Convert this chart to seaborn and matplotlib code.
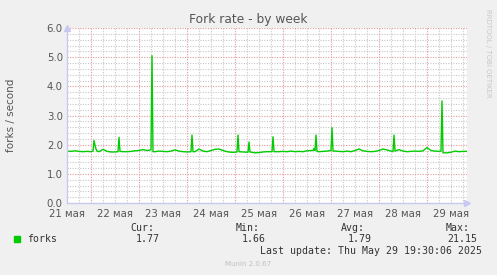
import numpy as np
import pandas as pd
import matplotlib
matplotlib.use("Agg")
import matplotlib.pyplot as plt
import seaborn as sns

# ---- data (hours since 21 May 00:00) ----
base_values = [
    1.78, 1.77, 1.79, 1.77, 1.76, 1.77, 1.76, 1.78, 1.76, 1.84,
    1.77, 1.75, 1.75, 1.76, 1.76, 1.76, 1.77, 1.79, 1.80, 1.83,
    1.80, 1.80, 1.76, 1.78, 1.77, 1.76, 1.78, 1.82, 1.78, 1.76,
    1.75, 1.75, 1.76, 1.85, 1.78, 1.76, 1.80, 1.84, 1.85, 1.80,
    1.76, 1.74, 1.74, 1.75, 1.75, 1.74, 1.74, 1.72, 1.73, 1.75,
    1.76, 1.76, 1.76, 1.76, 1.77, 1.76, 1.78, 1.76, 1.77, 1.76,
    1.79, 1.80, 1.80, 1.76, 1.77, 1.78, 1.80, 1.78, 1.77, 1.76,
    1.78, 1.76, 1.80, 1.85, 1.79, 1.77, 1.76, 1.77, 1.80, 1.85,
    1.82, 1.78, 1.78, 1.83, 1.78, 1.76, 1.77, 1.78, 1.77, 1.79,
    1.90, 1.80, 1.78, 1.77, 1.72, 1.72, 1.74, 1.78, 1.76, 1.77,
    1.77,
]
base_hours = list(range(12, 213, 2))

spike_hours = [25.0, 25.5, 26.0, 26.5, 27.0,
               37.5, 38.0, 38.5,
               54.0, 54.5, 55.0,
               74.0, 74.5, 75.0,
               97.0, 97.5, 98.0,
               102.5, 103.0, 103.5,
               114.5, 115.0, 115.5,
               135.0, 135.5, 136.0, 136.5, 137.0,
               144.0, 144.5, 145.0,
               175.0, 175.5, 176.0,
               199.0, 199.5, 200.0]
spike_values = [1.78, 2.14, 1.98, 1.85, 1.78,
                1.76, 2.25, 1.77,
                1.82, 5.05, 1.76,
                1.76, 2.33, 1.76,
                1.75, 2.33, 1.76,
                1.74, 2.09, 1.75,
                1.76, 2.27, 1.76,
                1.80, 1.87, 1.80, 2.33, 1.77,
                1.80, 2.58, 1.78,
                1.76, 2.33, 1.78,
                1.78, 3.50, 1.72]

day_labels = ["21 мая", "22 мая", "23 мая", "24 мая", "25 мая",
              "26 мая", "27 мая", "28 мая", "29 мая"]
y_ticks = [0.0, 1.0, 2.0, 3.0, 4.0, 5.0, 6.0]

legend_name = "forks"
stat_names = ["Cur:", "Min:", "Avg:", "Max:"]
stat_values = ["1.77", "1.66", "1.79", "21.15"]

# ---- assemble series ----
sp = np.array(spike_hours)
rows = [(h, v) for h, v in zip(base_hours, base_values)
        if np.min(np.abs(sp - h)) > 0.75]
rows += list(zip(spike_hours, spike_values))
df = pd.DataFrame(rows, columns=["hour", "forks"]).sort_values("hour")

# ---- figure ----
W, H = 497, 275
sns.set_style("white")
plt.rcParams["font.family"] = ["DejaVu Sans"]
fig = plt.figure(figsize=(W / 100, H / 100), dpi=100)
fig.patch.set_facecolor("#F0F0F0")

L, R, T, B = 67, 467, 28, 203
ax = fig.add_axes([L / W, 1 - B / H, (R - L) / W, (B - T) / H])
ax.set_facecolor("white")

x0, x1 = 12, 212
ax.set_xlim(x0, x1)
ax.set_ylim(0, 6)

minor_col = "#c8c8c8"
major_col = "#e09a9a"
dots = (0, (1, 1.3))
for h in range(18, 212, 6):
    if h % 24 != 0:
        ax.axvline(h, color=minor_col, lw=0.8, ls=dots, zorder=1)
for k in range(1, 30):
    yv = k * 0.2
    if k % 5 != 0:
        ax.axhline(yv, color=minor_col, lw=0.8, ls=dots, zorder=1)
for h in range(24, 212, 24):
    ax.axvline(h, color=major_col, lw=0.8, ls=dots, zorder=2)
for yv in y_ticks[1:]:
    ax.axhline(yv, color=major_col, lw=0.8, ls=dots, zorder=2)

sns.lineplot(data=df, x="hour", y="forks", ax=ax, color="#00cc00",
             lw=1.0, zorder=5, estimator=None, sort=False)

txt_col = "#555555"
noons = [12 + 24 * i for i in range(len(day_labels))]
ax.set_xticks(noons)
ax.set_xticklabels(day_labels)
ax.set_yticks(y_ticks)
ax.set_yticklabels([f"{v:.1f}" for v in y_ticks])
ax.tick_params(axis="both", length=0, labelsize=7.3, colors=txt_col, pad=3)
ax.tick_params(axis="x", pad=4)
ax.set_xlabel("")
ax.set_ylabel("")

for s in ["top", "right"]:
    ax.spines[s].set_visible(False)
for s in ["left", "bottom"]:
    ax.spines[s].set_color("#c8c8f0")
    ax.spines[s].set_linewidth(1.0)
    ax.spines[s].set_zorder(6)

ax.plot([0], [1.0], marker="^", ms=5, color="#c8c8f0", transform=ax.transAxes,
        clip_on=False, zorder=7)
ax.plot([1.0], [0], marker=">", ms=5, color="#c8c8f0", transform=ax.transAxes,
        clip_on=False, zorder=7)

def ft(x, y, s, **kw):
    fig.text(x / W, 1 - y / H, s, **kw)

ft(248, 19, "Fork rate - by week", ha="center", va="center", fontsize=8.8,
   color=txt_col)
ft(11, 115.5, "forks / second", ha="center", va="center", rotation=90,
   fontsize=7.5, color=txt_col)
ft(488, 53, "RRDTOOL / TOBI OETIKER", ha="center", va="center", rotation=270,
   fontsize=5, color="#c8c8c8")

mono = "DejaVu Sans Mono"
fig.patches.append(plt.Rectangle((14 / W, 1 - 242 / H), 6 / W, 6 / H,
                                 transform=fig.transFigure, color="#00cc00"))
ft(27, 239, legend_name, ha="left", va="center", fontsize=7.1, family=mono,
   color="#333333")
name_right = [154, 260, 365, 470]
val_right = [160, 266, 372, 477]
for nm, vv, nr, vr in zip(stat_names, stat_values, name_right, val_right):
    ft(nr, 228, nm, ha="right", va="center", fontsize=7.1, family=mono,
       color="#333333")
    ft(vr, 239, vv, ha="right", va="center", fontsize=7.1, family=mono,
       color="#333333")
ft(482, 251, "Last update: Thu May 29 19:30:06 2025", ha="right", va="center",
   fontsize=7.1, family=mono, color="#333333")
ft(248, 264, "Munin 2.0.67", ha="center", va="center", fontsize=5,
   color="#c0c0c0")

fig.savefig("out.png", dpi=100, facecolor=fig.get_facecolor())
